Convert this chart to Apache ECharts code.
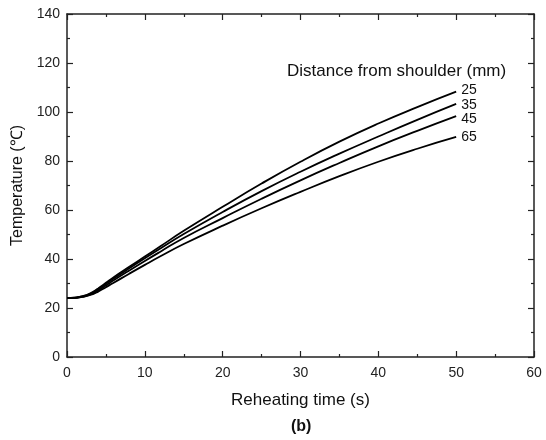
<!DOCTYPE html>
<html><head><meta charset="utf-8">
<script src="https://cdn.jsdelivr.net/npm/echarts@6/dist/echarts.min.js"></script>
<style>html,body{margin:0;padding:0;background:#fff}#c{width:546px;height:440px}</style>
</head><body><div id="c"></div>
<script>
const times = [0,1,2,3,4,5,6,8,10,12,15,20,25,30,35,40,45,50];
const seriesNames = ['25','35','45','65'];
const temp25 = [24,24.2,24.8,26,28,30.3,32.6,36.8,41,45.2,51.5,61.3,70.8,79.7,87.9,95.3,102,108.3];
const temp35 = [24,24.2,24.7,25.8,27.7,29.8,32,36.2,40.3,44.3,50.2,59.2,67.7,75.6,83,90,96.8,103.3];
const temp45 = [24,24.1,24.6,25.5,27.2,29.2,31.3,35.3,39.2,43,48.6,56.7,64.6,72.1,79.2,86,92.3,98.3];
const temp65 = [24,24.1,24.5,25.3,26.7,28.5,30.3,34,37.6,41.1,46.1,53.6,60.7,67.4,73.8,79.7,85,89.8];
const xTicks = [0,10,20,30,40,50,60];
const yTicks = [0,20,40,60,80,100,120,140];
const allTemps = [temp25,temp35,temp45,temp65];

const font = 'Liberation Sans, Arial, sans-serif';
const axisColor = '#222';
const labelOffsets = [-2,1,3,0];
const chart = echarts.init(document.getElementById('c'), null, {renderer:'canvas'});
const baseAxis = {
  axisLine:{show:true,onZero:false,lineStyle:{color:axisColor,width:1.5}},
  axisTick:{show:true,inside:true,length:6,lineStyle:{color:axisColor,width:1.2}},
  minorTick:{show:true,splitNumber:2,length:3,lineStyle:{color:axisColor,width:1.2}},
  splitLine:{show:false}
};
const option = {
  animation:false,
  grid:{left:67,right:12,top:14,bottom:83,containLabel:false},
  xAxis:[
    Object.assign({}, baseAxis, {type:'value',min:xTicks[0],max:xTicks[xTicks.length-1],interval:10,position:'bottom',
      name:'Reheating time (s)',nameLocation:'middle',nameGap:35,
      nameTextStyle:{fontFamily:font,fontSize:17,color:'#111'},
      axisLabel:{fontFamily:font,fontSize:14,color:'#222',margin:9}}),
    Object.assign({}, baseAxis, {type:'value',min:0,max:60,interval:10,position:'top',axisLabel:{show:false}})
  ],
  yAxis:[
    Object.assign({}, baseAxis, {type:'value',min:yTicks[0],max:yTicks[yTicks.length-1],interval:20,position:'left',
      name:'Temperature (℃)',nameLocation:'middle',nameGap:40,
      nameTextStyle:{fontFamily:font,fontSize:16,color:'#111'},
      axisLabel:{fontFamily:font,fontSize:14,color:'#222',margin:7}}),
    Object.assign({}, baseAxis, {type:'value',min:0,max:140,interval:20,position:'right',axisLabel:{show:false}})
  ],
  series: seriesNames.map((n,i)=>({
    name:n,type:'line',smooth:true,showSymbol:false,symbol:'none',
    data: times.map((t,j)=>[t, allTemps[i][j]]),
    lineStyle:{color:'#000',width:1.8},
    endLabel:{show:true,formatter:'{a}',fontFamily:font,fontSize:14,color:'#111',distance:5,offset:[0,labelOffsets[i]]}
  })),
  graphic:[
    {type:'text',left:287,top:63,style:{text:'Distance from shoulder (mm)',font:'17px '+font,fill:'#111'}},
    {type:'text',left:291,top:419,style:{text:'(b)',font:'bold 16px '+font,fill:'#111'}}
  ]
};
chart.setOption(option);
</script></body></html>
